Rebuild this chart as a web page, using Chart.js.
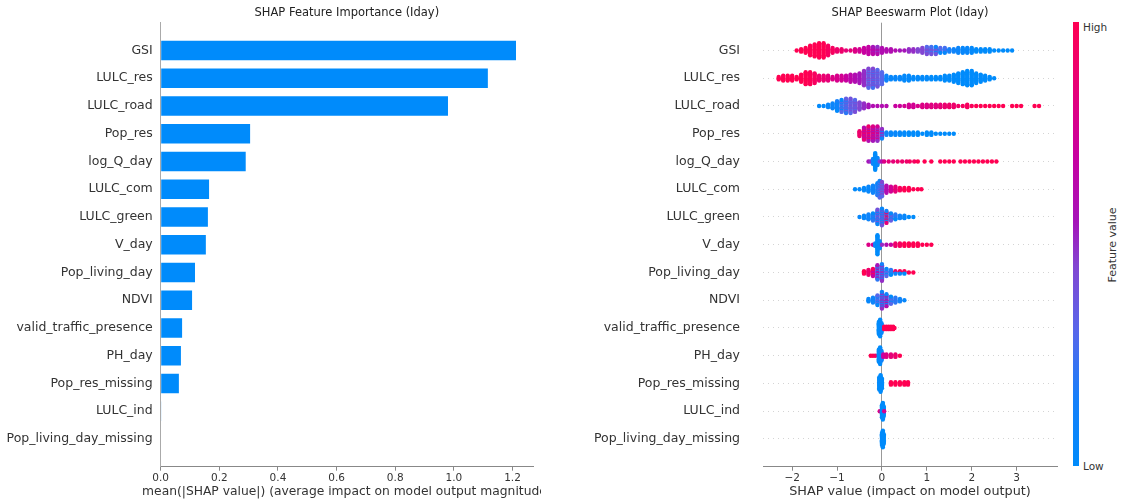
<!DOCTYPE html>
<html>
<head>
<meta charset="utf-8">
<title>SHAP Iday</title>
<script src="https://cdn.jsdelivr.net/npm/chart.js@4.4.1/dist/chart.umd.min.js"></script>
<style>
  body { margin: 0; background: #fff; }
  #wrap { position: relative; width: 1123px; height: 504px; overflow: hidden; background: #fff;
          font-family: "DejaVu Sans", sans-serif; color: #333; }
  #wrap canvas { position: absolute; top: 0; }
  #cbar { position: absolute; left: 1073px; top: 22px; width: 6px; height: 444px; }
  .cb-label { position: absolute; left: 1083px; font-size: 10.5px; line-height: 12px; }
  #cb-title { position: absolute; left: 1112px; top: 245px; font-size: 11px; white-space: nowrap;
              transform: translate(-50%, -50%) rotate(-90deg); }
</style>
</head>
<body>
<div id="wrap">
  <canvas id="bar" width="541" height="504" style="left:0"></canvas>
  <canvas id="swarm" width="500" height="504" style="left:560px"></canvas>
  <div id="cbar"></div>
  <span class="cb-label" id="cb-high" style="top:21px"></span>
  <span class="cb-label" id="cb-low" style="top:460px"></span>
  <span id="cb-title"></span>
</div>
<script>
// --- data ---
const features = ['GSI', 'LULC_res', 'LULC_road', 'Pop_res', 'log_Q_day', 'LULC_com', 'LULC_green',
  'V_day', 'Pop_living_day', 'NDVI', 'valid_traffic_presence', 'PH_day', 'Pop_res_missing',
  'LULC_ind', 'Pop_living_day_missing'];
const meanAbsShap = [1.212, 1.116, 0.98, 0.305, 0.29, 0.165, 0.161, 0.154, 0.117, 0.107,
  0.073, 0.069, 0.062, 0.002, 0];
const barTicks = [0, 0.2, 0.4, 0.6, 0.8, 1.0, 1.2];
const swarmTicks = [-2, -1, 0, 1, 2, 3];

const barTitle = 'SHAP Feature Importance (Iday)';
const barXLabel = 'mean(|SHAP value|) (average impact on model output magnitude)';
const swarmTitle = 'SHAP Beeswarm Plot (Iday)';
const swarmXLabel = 'SHAP value (impact on model output)';
const cbHigh = 'High', cbLow = 'Low', cbTitle = 'Feature value';

// swarm bins: [SHAP value, points stacked each side, feature value (0 low..1 high), alt feature value]
const swarmGSI = [[-1.9,0,1],[-1.8,1,1],[-1.7,2,1],[-1.6,4,1],[-1.5,5,1],[-1.4,6,1],[-1.3,6,1],
  [-1.2,4,0.95],[-1.1,2,0.95],[-1.0,1,0.9],[-0.9,1,0.9],[-0.8,0,0.85],[-0.7,0,0.85],[-0.6,1,0.8],
  [-0.5,1,0.75],[-0.4,2,0.7],[-0.3,3,0.68],[-0.2,3,0.65,0.55],[-0.1,3,0.62,0.5],[0,2,0.6],[0.1,1,0.6],
  [0.2,1,0.6],[0.3,0,0.6],[0.4,0,0.55],[0.5,0,0.55],[0.6,1,0.5],[0.7,1,0.5],[0.8,1,0.45],[0.9,2,0.45],
  [1.0,3,0.42,0.3],[1.1,3,0.4,0.25],[1.2,3,0.38,0.1],[1.3,2,0.3,0.05],[1.4,2,0.25,0.05],[1.5,1,0.15],
  [1.6,1,0.1],[1.7,2,0.08],[1.8,2,0.05],[1.9,2,0.05],[2.0,2,0.03],[2.1,1,0],[2.2,1,0],[2.3,1,0],
  [2.4,1,0],[2.5,0,0],[2.6,0,0],[2.7,0,0],[2.8,0,0],[2.9,0,0]];
const swarmLULCres = [[-2.3,1,1],[-2.2,2,1],[-2.1,2,1],[-2.0,2,1],[-1.9,1,1],[-1.8,3,1],[-1.7,5,1],
  [-1.6,5,0.98],[-1.5,4,0.95],[-1.4,2,0.9],[-1.3,2,0.88],[-1.2,2,0.85],[-1.1,1,0.8],[-1.0,2,0.78],
  [-0.9,2,0.75],[-0.8,2,0.7],[-0.7,3,0.65],[-0.6,3,0.6],[-0.5,4,0.55],[-0.4,6,0.5],[-0.3,8,0.45,0.3],
  [-0.2,8,0.45,0.25],[-0.1,7,0.4,0.3],[0,5,0.3],[0.1,2,0.1],[0.2,1,0.05],[0.3,1,0.05],[0.4,1,0.05],
  [0.5,2,0.03],[0.6,2,0.03],[0.7,1,0.02],[0.8,1,0.02],[0.9,1,0.02],[1.0,1,0.02],[1.1,1,0],[1.2,1,0],
  [1.3,1,0],[1.4,2,0],[1.5,2,0],[1.6,3,0],[1.7,4,0],[1.8,5,0],[1.9,6,0],[2.0,6,0],[2.1,4,0],[2.2,3,0],
  [2.3,2,0],[2.4,1,0],[2.5,0,0]];
const swarmLULCroad = [[-1.4,0,0.02],[-1.3,0,0.03],[-1.2,1,0.05],[-1.1,2,0.08],[-1.0,4,0.15,0.02],
  [-0.9,5,0.3,0.05],[-0.8,6,0.35,0.2],[-0.7,6,0.4,0.3],[-0.6,5,0.42,0.3],[-0.5,3,0.45],[-0.4,2,0.5],
  [-0.3,1,0.55],[-0.2,0,0.6],[-0.1,0,0.6],[0,0,0.6],[0.1,0,0.62],[0.3,0,0.7],[0.4,0,0.72],[0.5,0,0.75],
  [0.6,1,0.75],[0.7,1,0.75],[0.8,0,0.78],[0.9,1,0.8],[1.0,1,0.8],[1.1,1,0.82],[1.2,1,0.82],[1.3,1,0.85],
  [1.4,1,0.88],[1.5,1,0.9],[1.6,1,0.9],[1.7,0,0.92],[1.8,0,0.95],[1.9,1,0.95],[2.0,0,0.97],[2.1,0,1],
  [2.2,0,1],[2.3,0,1],[2.4,0,1],[2.5,0,1],[2.6,0,1],[2.7,0,1],[2.9,0,1],[3.0,0,1],[3.1,0,1],[3.4,0,1],
  [3.5,0,1]];
const swarmPopRes = [[-0.5,2,0.9],[-0.4,5,0.85,0.65],[-0.3,6,0.9,0.6],[-0.2,6,0.8,0.55],[-0.1,6,0.75,0.5],
  [0,4,0.5,0.1],[0.1,1,0.1],[0.2,1,0.05],[0.3,1,0.05],[0.4,1,0.03],[0.5,1,0.02],[0.6,1,0],[0.7,1,0],
  [0.8,1,0],[0.9,0,0],[1.0,1,0],[1.1,1,0],[1.2,0,0],[1.3,0,0],[1.4,0,0],[1.5,0,0],[1.6,0,0]];
const swarmLogQ = [[-0.3,0,0.55],[-0.25,0,0.5],[-0.2,2,0.1],[-0.15,7,0],[-0.1,3,0.05],[-0.05,0,0.4],
  [0,0,0.6],[0.05,0,0.8],[0.15,0,0.85],[0.25,0,0.85],[0.35,0,0.9],[0.45,0,0.9],[0.55,0,0.9],
  [0.62,0,0.95],[0.72,0,0.95],[0.8,0,1],[0.95,0,1],[1.1,0,1],[1.3,0,1],[1.4,0,1],[1.5,0,1],[1.6,0,1],
  [1.75,0,1],[1.85,0,1],[1.95,0,1],[2.05,0,1],[2.15,0,1],[2.25,0,1],[2.35,0,1],[2.45,0,1],[2.55,0,1]];
const swarmLULCcom = [[-0.6,0,0.02],[-0.5,0,0.02],[-0.4,1,0.03],[-0.3,2,0.05],[-0.2,3,0.1],
  [-0.1,5,0.2,0.05],[-0.05,7,0.3,0.1],[0,6,0.45,0.3],[0.1,3,0.6],[0.2,2,0.75],[0.3,2,0.85],
  [0.4,1,0.95],[0.5,1,1],[0.6,1,1],[0.7,0,1],[0.8,0,1],[0.88,0,1]];
const swarmLULCgreen = [[-0.5,0,0.05],[-0.4,1,0.05],[-0.3,2,0.1],[-0.2,3,0.2,0],[-0.1,6,0.4,0.05],
  [0,7,0.4,0.05],[0.1,5,0.85,0.15],[0.2,3,0.35,0.05],[0.3,2,0.2,0],[0.4,1,0.1],[0.5,1,0.05],
  [0.6,0,0],[0.7,0,0]];
const swarmVday = [[-0.3,0,0.8],[-0.2,0,0.75],[-0.15,1,0.1],[-0.1,8,0],[-0.05,3,0.05],[0,0,0.5],
  [0.1,0,0.6],[0.2,0,0.7],[0.3,1,0.9],[0.4,1,0.95],[0.5,1,1],[0.6,1,1],[0.7,1,1],[0.8,1,1],[0.9,0,1],
  [1.0,0,1],[1.1,0,1]];
const swarmPopLiving = [[-0.4,1,1],[-0.3,2,0.9],[-0.2,3,0.7,0.95],[-0.1,6,0.55,0.2],[0,7,0.5,0.15],
  [0.1,3,0.3,0.05],[0.2,2,0.2,0],[0.3,1,0.1,0.9],[0.4,1,0.05,1],[0.5,1,0,1],[0.6,0,1],[0.7,0,1]];
const swarmNDVI = [[-0.3,1,0.05],[-0.2,2,0.1],[-0.1,4,0.3,0.05],[0,7,0.5,0.1],[0.1,5,0.6,0.1],
  [0.2,3,0.3,0],[0.3,2,0.2],[0.4,1,0.1],[0.5,0,0.05]];
const swarmTraffic = [[-0.07,5,0],[-0.04,7,0],[-0.01,4,0.05],[0.05,1,1],[0.1,1,1],[0.15,1,1],
  [0.2,1,1],[0.25,1,1],[0.28,0,1]];
const swarmPHday = [[-0.25,0,1],[-0.2,0,1],[-0.15,0,0.95],[-0.07,5,0],[-0.04,7,0],[-0.01,4,0.1],
  [0.03,1,0.7],[0.1,1,0.8],[0.2,1,0.85],[0.3,1,0.9],[0.4,0,1]];
const swarmPopResMissing = [[-0.06,5,0],[-0.03,7,0],[0,4,0],[0.2,1,1],[0.3,1,1],[0.4,1,1],
  [0.5,1,1],[0.58,1,1]];
const swarmLULCind = [[-0.05,0,0.8],[0,5,0],[0.02,7,0],[0.04,4,0],[0.05,0,0.75]];
const swarmPopLivingMissing = [[0,5,0],[0.02,7,0],[0.04,4,0]];

const swarms = [swarmGSI, swarmLULCres, swarmLULCroad, swarmPopRes, swarmLogQ, swarmLULCcom,
  swarmLULCgreen, swarmVday, swarmPopLiving, swarmNDVI, swarmTraffic, swarmPHday,
  swarmPopResMissing, swarmLULCind, swarmPopLivingMissing];

// --- style ---
const N = features.length;
const barColor = '#008bfb';
const textColor = '#333333';
const axisColor = '#888888';
const FONT = '"DejaVu Sans", sans-serif';
const SWARM_STEP = 0.043;   // vertical spacing of stacked dots, in row units
const cmapStops = [0, 0.15, 0.3, 0.45, 0.55, 0.7, 0.85, 1];
const cmapRGB = [[0,139,251],[22,128,250],[86,104,235],[130,70,210],[165,20,185],[200,0,160],[230,0,120],[255,0,82]];

function cmap(t) {
  for (let i = 1; i < cmapStops.length; i++) {
    if (t <= cmapStops[i]) {
      const f = (t - cmapStops[i - 1]) / (cmapStops[i] - cmapStops[i - 1]);
      const a = cmapRGB[i - 1], b = cmapRGB[i];
      return 'rgb(' + a.map((v, k) => Math.round(v + (b[k] - v) * f)).join(',') + ')';
    }
  }
  return 'rgb(' + cmapRGB[cmapRGB.length - 1].join(',') + ')';
}

const minus = s => String(s).replace('-', '\u2212');

// title and x label centred on the plot area, like matplotlib (label may overflow the axes)
const axesText = {
  id: 'axesText',
  afterDraw(chart, args, opts) {
    const { ctx, chartArea } = chart;
    const cx = (chartArea.left + chartArea.right) / 2;
    ctx.save();
    ctx.textAlign = 'center';
    ctx.textBaseline = 'middle';
    ctx.fillStyle = '#222';
    ctx.font = '11.5px ' + FONT;
    ctx.fillText(opts.title, cx, 13);
    ctx.fillStyle = textColor;
    ctx.font = opts.xSize + 'px ' + FONT;
    ctx.fillText(opts.xLabel, cx, 491.5);
    ctx.restore();
  }
};

Chart.defaults.font.family = FONT;
Chart.defaults.color = textColor;

// rows: GSI on top -> y = N-1, one empty row of margin above and below
const rowTicks = features.map((f, i) => ({ value: i }));
const rowLabel = v => features[N - 1 - v];
const fixRowAxis = width => s => { s.width = width; s.paddingTop = 0; s.paddingBottom = 0; };

// --- left: mean |SHAP| bars ---
new Chart(document.getElementById('bar'), {
  type: 'bar',
  data: {
    datasets: [{
      data: features.map((f, i) => ({ x: meanAbsShap[i], y: N - 1 - i })),
      backgroundColor: barColor,
      barPercentage: 0.7,
      categoryPercentage: 1
    }]
  },
  options: {
    indexAxis: 'y',
    responsive: false,
    animation: false,
    devicePixelRatio: 1,
    layout: { autoPadding: false, padding: { top: 22.7, right: 8, bottom: 0, left: 0 } },
    plugins: {
      legend: { display: false }, tooltip: { enabled: false },
      axesText: { title: barTitle, xLabel: barXLabel, xSize: 12.3 }
    },
    scales: {
      x: {
        type: 'linear', min: 0, max: 1.27,
        afterFit: s => { s.height = 37.3; },
        afterBuildTicks: s => { s.ticks = barTicks.map(v => ({ value: v })); },
        ticks: { callback: v => v.toFixed(1), font: { size: 10.5 }, padding: 1, maxRotation: 0, autoSkip: false },
        grid: { drawOnChartArea: false, tickLength: 4, color: axisColor },
        border: { color: axisColor }
      },
      y: {
        type: 'linear', min: -1, max: N, offset: false,
        afterFit: fixRowAxis(160.7),
        afterBuildTicks: s => { s.ticks = rowTicks.map(t => ({ ...t })); },
        ticks: { callback: rowLabel, font: { size: 12.5 }, padding: 8, autoSkip: false },
        grid: { display: false, drawTicks: false, offset: false },
        border: { display: true, color: '#aaaaaa' }
      }
    }
  },
  plugins: [axesText]
});

// --- right: beeswarm ---
const swarmPoints = [];
swarms.forEach((bins, i) => {
  const row = N - 1 - i;
  bins.forEach(([x, n, c, c2]) => {
    for (let k = 0; k <= n; k++) {
      const offs = k === 0 ? [0] : [k, -k];
      offs.forEach((o, j) => {
        const alt = c2 !== undefined && (k + j) % 2 === 1;
        swarmPoints.push({ x, y: row + o * SWARM_STEP, c: alt ? c2 : c });
      });
    }
  });
});

new Chart(document.getElementById('swarm'), {
  type: 'scatter',
  data: {
    datasets: [{
      data: swarmPoints,
      pointRadius: 2.2,
      pointBorderWidth: 0,
      pointBackgroundColor: swarmPoints.map(p => cmap(p.c))
    }]
  },
  options: {
    responsive: false,
    animation: false,
    devicePixelRatio: 1,
    parsing: false,
    layout: { autoPadding: false, padding: { top: 22.7, right: 3, bottom: 0, left: 0 } },
    plugins: {
      legend: { display: false }, tooltip: { enabled: false },
      axesText: { title: swarmTitle, xLabel: swarmXLabel, xSize: 12.8 }
    },
    scales: {
      x: {
        type: 'linear', min: -2.65, max: 3.9,
        afterFit: s => { s.height = 37.3; },
        afterBuildTicks: s => { s.ticks = swarmTicks.map(v => ({ value: v })); },
        ticks: { callback: v => minus(v), font: { size: 10.5 }, padding: 1, maxRotation: 0, autoSkip: false },
        grid: {
          color: ctx => (ctx.tick && ctx.tick.value === 0 ? '#999999' : 'rgba(0,0,0,0)'),
          tickColor: axisColor, tickLength: 4
        },
        border: { color: axisColor }
      },
      y: {
        type: 'linear', min: -1, max: N,
        afterFit: fixRowAxis(203),
        afterBuildTicks: s => { s.ticks = rowTicks.map(t => ({ ...t })); },
        ticks: { callback: rowLabel, font: { size: 12.5 }, padding: 23, autoSkip: false },
        grid: { drawTicks: false, color: '#d4d4d4', lineWidth: 1 },
        border: { display: false, dash: [1, 4] }
      }
    }
  },
  plugins: [axesText]
});

// --- colour bar ---
document.getElementById('cbar').style.background = 'linear-gradient(to top, ' +
  cmapStops.map((s, i) => 'rgb(' + cmapRGB[i].join(',') + ') ' + (s * 100) + '%').join(', ') + ')';
document.getElementById('cb-high').textContent = cbHigh;
document.getElementById('cb-low').textContent = cbLow;
document.getElementById('cb-title').textContent = cbTitle;
</script>
</body>
</html>
